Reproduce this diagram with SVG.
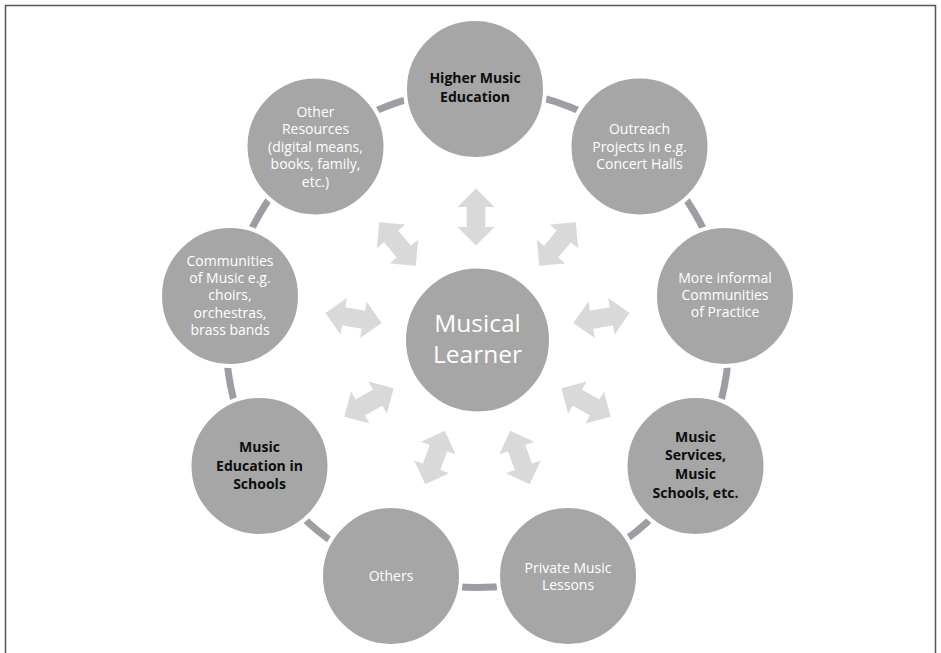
<svg xmlns="http://www.w3.org/2000/svg" width="941" height="653" viewBox="0 0 941 653">
<defs>
<style>
.node{fill:#a6a6a6;stroke:#ffffff;stroke-width:4}
.t{font-family:"Open Sans","Liberation Sans",sans-serif;font-size:14px;fill:#ffffff;text-anchor:middle}
.b{font-family:"Open Sans","Liberation Sans",sans-serif;font-size:14px;font-weight:bold;fill:#0d0d0d;text-anchor:middle}
.c{font-family:"Open Sans","Liberation Sans",sans-serif;font-size:24.5px;fill:#ffffff;text-anchor:middle}
.ring{fill:none;stroke:#9d9ea3;stroke-width:7}
.arr{fill:#d9d9d9}
</style>
<path id="dbl" d="M-28.5,0 L-10,-18.5 L-10,-9.25 L10,-9.25 L10,-18.5 L28.5,0 L10,18.5 L10,9.25 L-10,9.25 L-10,18.5 Z"/>
</defs>
<rect width="941" height="653" fill="#ffffff"/>
<path d="M5.5,653 V5.5 H935.5 V653" fill="none" stroke="#555555" stroke-width="1.5"/>
<g id="connectors">
<ellipse class="ring" cx="477.5" cy="338.5" rx="251.5" ry="249"/>
<g class="arr">
<use href="#dbl" transform="translate(476,217) rotate(90)"/>
<use href="#dbl" transform="translate(557.5,244) rotate(-50)"/>
<use href="#dbl" transform="translate(601.5,318) rotate(-10)"/>
<use href="#dbl" transform="translate(586,402.5) rotate(30)"/>
<use href="#dbl" transform="translate(520,457.5) rotate(70)"/>
<use href="#dbl" transform="translate(435,457.5) rotate(110)"/>
<use href="#dbl" transform="translate(369,402.5) rotate(150)"/>
<use href="#dbl" transform="translate(353.5,318) rotate(190)"/>
<use href="#dbl" transform="translate(397.5,244) rotate(230)"/>
</g>
</g>
<g id="node-center">
<circle cx="477.5" cy="340" r="73" fill="#a6a6a6" stroke="#ffffff" stroke-width="3"/>
<text class="c" x="477.5" y="331.7">Musical</text>
<text class="c" x="477.5" y="363.3">Learner</text>
</g>
<g id="node-higher">
<circle class="node" cx="475" cy="89" r="70"/>
<text class="b" x="475" y="83.3">Higher Music</text>
<text class="b" x="475" y="101.7">Education</text>
</g>
<g id="node-outreach">
<circle class="node" cx="639.5" cy="146.5" r="70"/>
<text class="t" x="639.5" y="134">Outreach</text>
<text class="t" x="639.5" y="151.5">Projects in e.g.</text>
<text class="t" x="639.5" y="169">Concert Halls</text>
</g>
<g id="node-informal">
<circle class="node" cx="725" cy="296" r="70"/>
<text class="t" x="725" y="282.7">More informal</text>
<text class="t" x="725" y="300">Communities</text>
<text class="t" x="725" y="317.3">of Practice</text>
</g>
<g id="node-services">
<circle class="node" cx="695.5" cy="466" r="70"/>
<text class="b" x="695.5" y="441.5">Music</text>
<text class="b" x="695.5" y="460.2">Services,</text>
<text class="b" x="695.5" y="478.9">Music</text>
<text class="b" x="695.5" y="497.6">Schools, etc.</text>
</g>
<g id="node-private">
<circle class="node" cx="568" cy="576" r="70"/>
<text class="t" x="568" y="573.3">Private Music</text>
<text class="t" x="568" y="590">Lessons</text>
</g>
<g id="node-others">
<circle class="node" cx="391" cy="576" r="70"/>
<text class="t" x="391" y="580.7">Others</text>
</g>
<g id="node-schools">
<circle class="node" cx="259.5" cy="466" r="70"/>
<text class="b" x="259.5" y="451.7">Music</text>
<text class="b" x="259.5" y="470.5">Education in</text>
<text class="b" x="259.5" y="489.3">Schools</text>
</g>
<g id="node-communities">
<circle class="node" cx="230" cy="296" r="70"/>
<text class="t" x="230" y="266">Communities</text>
<text class="t" x="230" y="283.2">of Music e.g.</text>
<text class="t" x="230" y="300.4">choirs,</text>
<text class="t" x="230" y="317.6">orchestras,</text>
<text class="t" x="230" y="334.5">brass bands</text>
</g>
<g id="node-resources">
<circle class="node" cx="315.5" cy="146.5" r="70"/>
<text class="t" x="315.5" y="116.7">Other</text>
<text class="t" x="315.5" y="134">Resources</text>
<text class="t" x="315.5" y="151.7">(digital means,</text>
<text class="t" x="315.5" y="169.3">books, family,</text>
<text class="t" x="315.5" y="186.7">etc.)</text>
</g>
</svg>
